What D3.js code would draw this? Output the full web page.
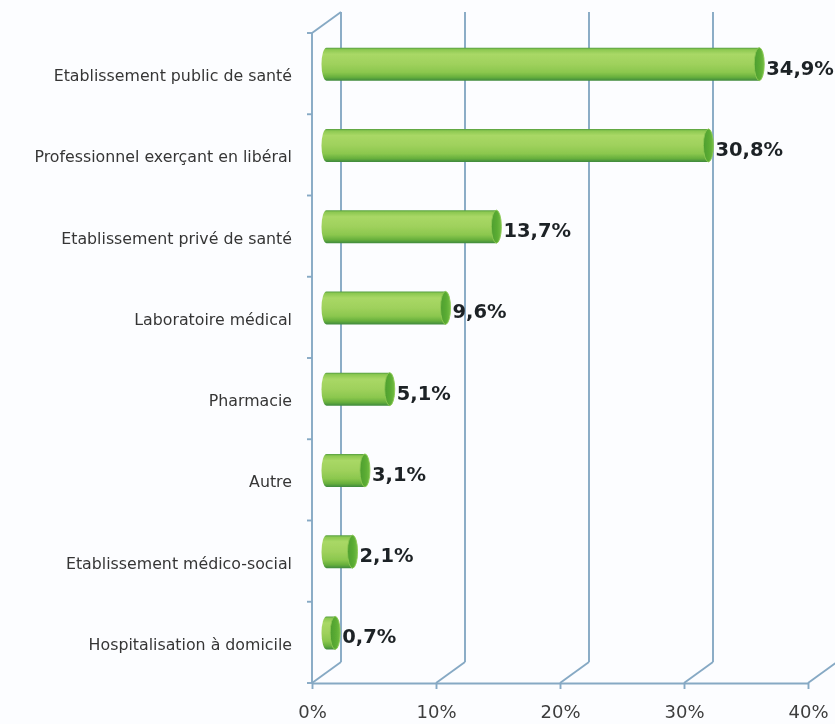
<!DOCTYPE html>
<html>
<head>
<meta charset="utf-8">
<script src="https://cdn.jsdelivr.net/npm/d3@7"></script>
<style>
  html, body { margin: 0; padding: 0; background: #fcfdff; }
  svg { display: block; }
</style>
</head>
<body>
<svg id="chart" width="835" height="724"></svg>
<script>
// Lieux de déclaration (part en %)
const categories = [
  "Etablissement public de santé",
  "Professionnel exerçant en libéral",
  "Etablissement privé de santé",
  "Laboratoire médical",
  "Pharmacie",
  "Autre",
  "Etablissement médico-social",
  "Hospitalisation à domicile"
];
const values = [34.9, 30.8, 13.7, 9.6, 5.1, 3.1, 2.1, 0.7];
const tickValues = [0, 10, 20, 30, 40];
const tickLabels = ["0%", "10%", "20%", "30%", "40%"];

const svg = d3.select("#chart");

// plot frame (front plane) and the 3D depth offset of the back wall
const plotLeft = 312, plotRight = 808, plotTop = 33, plotBottom = 683;
const DX = 29, DY = -21;
const gridColor = "#86a9c4";

const x = d3.scaleLinear().domain([0, 40]).range([plotLeft, plotRight]);
const y = d3.scaleBand().domain(categories).range([plotTop, plotBottom]);

const fmt = v => d3.format(".1f")(v).replace(".", ",") + "%";

// gradients for the cylinders
const defs = svg.append("defs");
const body = defs.append("linearGradient")
  .attr("id", "cylBody").attr("x1", 0).attr("y1", 0).attr("x2", 0).attr("y2", 1);
[
  [0, "#4f9a3e"], [0.06, "#8cc850"], [0.2, "#a9d866"], [0.5, "#9fd15c"],
  [0.75, "#8bc74e"], [0.9, "#66af3c"], [1, "#3f8a3c"]
].forEach(([o, c]) => body.append("stop").attr("offset", o).attr("stop-color", c));

const cap = defs.append("linearGradient")
  .attr("id", "cylCap").attr("x1", 0).attr("y1", 0).attr("x2", 1).attr("y2", 0);
[[0, "#4d9e2e"], [0.6, "#5cad34"], [1, "#74bd44"]]
  .forEach(([o, c]) => cap.append("stop").attr("offset", o).attr("stop-color", c));

const soft = defs.append("filter").attr("id", "soft")
  .attr("x", "-5%").attr("y", "-5%").attr("width", "110%").attr("height", "110%");
soft.append("feGaussianBlur").attr("stdDeviation", 0.6);

const root = svg.append("g").attr("filter", "url(#soft)");

const grid = root.append("g")
  .attr("fill", "none").attr("stroke", gridColor).attr("stroke-width", 1.9);

// back wall verticals
grid.selectAll("line.back").data(tickValues).join("line")
  .attr("class", "back")
  .attr("x1", d => x(d) + DX).attr("x2", d => x(d) + DX)
  .attr("y1", plotBottom + DY).attr("y2", plotTop + DY);

// floor depth lines
grid.selectAll("line.floor").data(tickValues).join("line")
  .attr("class", "floor")
  .attr("x1", d => x(d)).attr("y1", plotBottom)
  .attr("x2", d => x(d) + DX).attr("y2", plotBottom + DY);

// left wall: front edge and top edge
grid.append("line")
  .attr("x1", plotLeft).attr("x2", plotLeft).attr("y1", plotTop).attr("y2", plotBottom);
grid.append("line")
  .attr("x1", plotLeft).attr("y1", plotTop).attr("x2", plotLeft + DX).attr("y2", plotTop + DY);

// category boundary ticks on the left edge
const bounds = categories.map(c => y(c)).concat([plotBottom]);
grid.selectAll("line.ytick").data(bounds).join("line")
  .attr("class", "ytick")
  .attr("x1", plotLeft - 5).attr("x2", plotLeft).attr("y1", d => d).attr("y2", d => d);

// value axis along the front of the floor
const xAxis = d3.axisBottom(x)
  .tickValues(tickValues)
  .tickFormat((d, i) => tickLabels[i])
  .tickSize(6).tickSizeOuter(0).tickPadding(16);
const gx = root.append("g").attr("transform", `translate(0,${plotBottom})`).call(xAxis);
gx.select(".domain").attr("stroke", gridColor).attr("stroke-width", 1.9);
gx.selectAll(".tick line").attr("stroke", gridColor).attr("stroke-width", 1.9);
gx.selectAll(".tick text")
  .attr("fill", "#3d3d3d")
  .style("font-family", "'DejaVu Sans', sans-serif")
  .style("font-size", "18px");

// category labels
root.append("g").selectAll("text").data(categories).join("text")
  .attr("x", 292)
  .attr("y", d => y(d) + y.bandwidth() / 2 + 2)
  .attr("text-anchor", "end")
  .attr("dominant-baseline", "central")
  .attr("fill", "#363636")
  .style("font-family", "'DejaVu Sans', sans-serif")
  .style("font-size", "15.8px")
  .text(d => d);

// cylinders sit halfway into the depth
const xb = v => x(v) + DX / 2;
const barH = 33, rx = 5;
const barY = c => y(c) + y.bandwidth() / 2 + DY / 2 + 1;
const rows = categories.map((c, i) => ({ c, v: values[i] }));

const bars = root.append("g").selectAll("g").data(rows).join("g");

bars.append("path")
  .attr("fill", "url(#cylBody)")
  .attr("d", d => {
    const x0 = xb(0), x1 = xb(d.v), cy = barY(d.c), ry = barH / 2;
    return `M${x1},${cy - ry} L${x0},${cy - ry} A${rx},${ry} 0 0 0 ${x0},${cy + ry} L${x1},${cy + ry} Z`;
  });

bars.append("ellipse")
  .attr("cx", d => xb(d.v)).attr("cy", d => barY(d.c))
  .attr("rx", rx).attr("ry", barH / 2)
  .attr("fill", "url(#cylCap)")
  .attr("stroke", "#8cc853").attr("stroke-width", 0.9);

// value labels
root.append("g").selectAll("text").data(rows).join("text")
  .attr("x", d => xb(d.v) + rx + 2)
  .attr("y", d => barY(d.c) + 4)
  .attr("dominant-baseline", "central")
  .attr("fill", "#1f2326")
  .style("font-family", "'DejaVu Sans', sans-serif")
  .style("font-weight", "bold")
  .style("font-size", "19.5px")
  .text(d => fmt(d.v));
</script>
</body>
</html>
